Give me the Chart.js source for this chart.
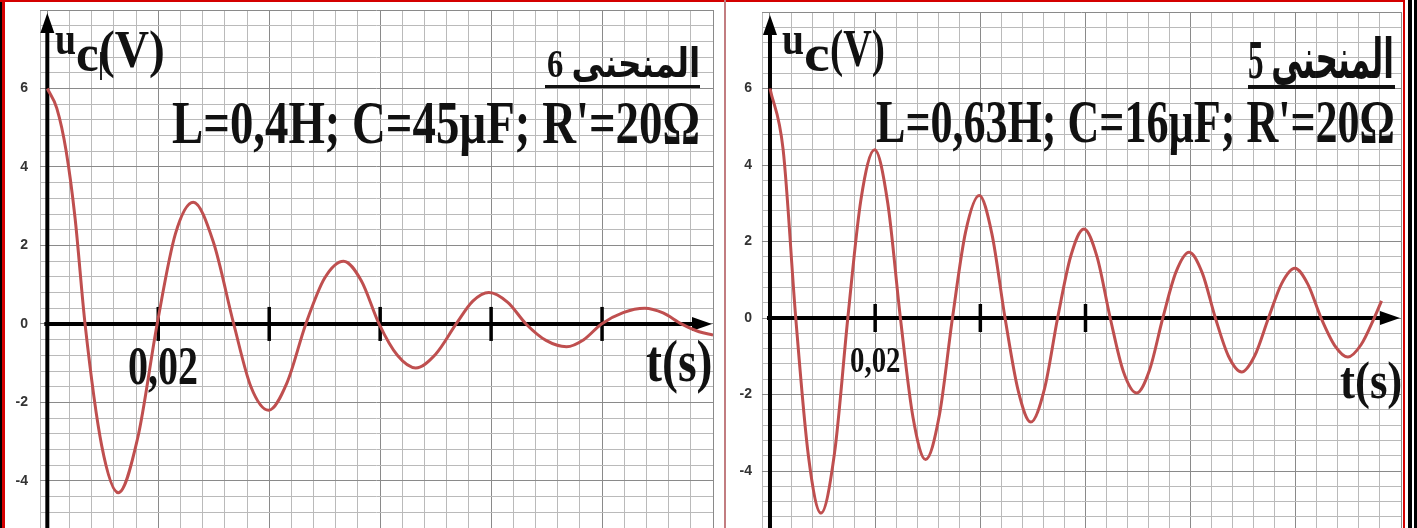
<!DOCTYPE html>
<html>
<head>
<meta charset="utf-8">
<script src="https://cdn.jsdelivr.net/npm/chart.js@4.4.0/dist/chart.umd.min.js"></script>
<style>
body { margin:0; width:1417px; height:528px; overflow:hidden; background:#fff; position:relative; }
.abs { position:absolute; }
.lbl { position:absolute; left:0; top:0; font-family:"Liberation Serif","DejaVu Sans",serif; font-weight:bold; color:#111; line-height:1; white-space:nowrap; transform-origin:0 0; }
</style>
</head>
<body>
<canvas id="chart6" class="abs" width="724" height="528" style="left:0;top:0"></canvas>
<canvas id="chart5" class="abs" width="690" height="528" style="left:727px;top:0"></canvas>

<!-- frame -->
<div class="abs" style="left:0;top:0;width:2px;height:528px;background:#000"></div>
<div class="abs" style="left:2px;top:0;width:3px;height:528px;background:#d40000"></div>
<div class="abs" style="left:0;top:0;width:1405px;height:2px;background:#d40000"></div>
<div class="abs" style="left:1403px;top:0;width:2px;height:528px;background:#d40000"></div>
<div class="abs" style="left:1408px;top:0;width:4px;height:528px;background:#000"></div>
<div class="abs" style="left:1414px;top:0;width:3px;height:528px;background:#000"></div>
<div class="abs" style="left:724px;top:0;width:2px;height:528px;background:#c27d80"></div>

<!-- left panel texts -->
<div class="lbl" data-box="55,21,54,36,1.29">u</div>
<div class="lbl" data-box="76,23,72,40,1.3">c</div>
<div class="abs" style="left:100px;top:52px;width:2px;height:28px;background:#222"></div>
<div class="lbl" data-box="99,66,68,41,1.3">(V)</div>
<div class="lbl" dir="rtl" data-box="547,153,77,31,1.3">المنحنى 6</div>
<div class="abs" style="left:545px;top:85px;width:155px;height:3px;background:#111"></div>
<div class="lbl" data-box="172,528,143,46,1.31">L=0,4H; C=45µF; R'=20Ω</div>
<div class="lbl" data-box="128,70,385,40,1.37">0,02</div>
<div class="lbl" data-box="646,66,382,45,1.3">t(s)</div>

<!-- right panel texts -->
<div class="lbl" data-box="782,22,54,36,1.29">u</div>
<div class="lbl" data-box="804,26,72,40,1.3">c</div>
<div class="lbl" data-box="830,55,67,41,1.3">(V)</div>
<div class="lbl" dir="rtl" data-box="1248,146,78,42,1.33">المنحنى 5</div>
<div class="abs" style="left:1248px;top:85px;width:147px;height:4px;background:#111"></div>
<div class="lbl" data-box="876,519,142,46,1.31">L=0,63H; C=16µF; R'=20Ω</div>
<div class="lbl" data-box="850,51,372,30,1.18">0,02</div>
<div class="lbl" data-box="1340,62,398,42,1.26">t(s)</div>

<script>
// curve 6 : L=0,4H ; C=45µF
var curve6Time = [0, 0.0017, 0.0034, 0.0050, 0.0068, 0.0098, 0.0128, 0.0163, 0.0198,
  0.0231, 0.0263, 0.0299, 0.0336, 0.0367, 0.0399, 0.0432, 0.0466, 0.0500, 0.0534,
  0.0566, 0.0598, 0.0631, 0.0664, 0.0700, 0.0737, 0.0767, 0.0796, 0.0830, 0.0863,
  0.0899, 0.0936, 0.0967, 0.0999, 0.1038, 0.1077, 0.1110, 0.1143, 0.1175, 0.1200];
var curve6Volt = [6.0, 5.5, 4.4, 2.7, 0, -3.1, -4.3, -2.9, 0,
  2.3, 3.1, 2.1, 0, -1.6, -2.2, -1.5, 0, 1.17, 1.6,
  1.1, 0, -0.8, -1.12, -0.77, 0, 0.58, 0.8, 0.55, 0,
  -0.42, -0.58, -0.4, 0, 0.29, 0.4, 0.28, 0, -0.2, -0.28];

// curve 5 : L=0,63H ; C=16µF
var curve5Time = [0, 0.0025, 0.0049, 0.0073, 0.0097, 0.0123, 0.0148, 0.0173, 0.0199,
  0.0224, 0.0248, 0.0272, 0.0296, 0.0322, 0.0347, 0.0372, 0.0398, 0.0422, 0.0447,
  0.0472, 0.0496, 0.0522, 0.0547, 0.0572, 0.0597, 0.0622, 0.0647, 0.0672, 0.0697,
  0.0722, 0.0747, 0.0772, 0.0797, 0.0822, 0.0847, 0.0872, 0.0897, 0.0922, 0.0948,
  0.0973, 0.0998, 0.1023, 0.1048, 0.1074, 0.1099, 0.1124, 0.1149, 0.1163];
var curve5Volt = [6.0, 4.4, 0, -3.6, -5.1, -3.5, 0, 3.1, 4.4,
  3.0, 0, -2.6, -3.7, -2.55, 0, 2.25, 3.2, 2.2, 0,
  -1.9, -2.72, -1.85, 0, 1.62, 2.33, 1.6, 0, -1.4, -1.96,
  -1.35, 0, 1.2, 1.72, 1.18, 0, -1.0, -1.41, -0.98, 0,
  0.9, 1.3, 0.88, 0, -0.72, -1.02, -0.7, 0, 0.45];

var yLabels = [-4, -2, 0, 2, 4, 6];
var ticks6 = [0.02, 0.04, 0.06, 0.08, 0.10];
var ticks5 = [0.02, 0.04, 0.06];

var gridMinor = "#bababa";
var gridMajor = "#8a8a8a";
var curveColor = "#bf4f4f";

var axesArrows = {
  id: "axesArrows",
  beforeDatasetsDraw: function(chart, args, opts) {
    var ctx = chart.ctx, a = chart.chartArea;
    var xs = chart.scales.x, ys = chart.scales.y;
    var x0 = xs.getPixelForValue(0), y0 = ys.getPixelForValue(0);
    var tipY = a.top + opts.tipY, tipX = a.right - 1;
    ctx.save();
    ctx.strokeStyle = "#000";
    ctx.fillStyle = "#000";
    ctx.lineWidth = 4;
    ctx.beginPath(); ctx.moveTo(x0, a.bottom); ctx.lineTo(x0, tipY + 16); ctx.stroke();
    ctx.beginPath(); ctx.moveTo(x0, tipY); ctx.lineTo(x0 - 7, tipY + 20); ctx.lineTo(x0 + 7, tipY + 20); ctx.closePath(); ctx.fill();
    ctx.beginPath(); ctx.moveTo(x0 - 3, y0); ctx.lineTo(tipX - 16, y0); ctx.stroke();
    ctx.beginPath(); ctx.moveTo(tipX, y0); ctx.lineTo(tipX - 20, y0 - 7); ctx.lineTo(tipX - 20, y0 + 7); ctx.closePath(); ctx.fill();
    ctx.lineWidth = 3.5;
    opts.ticks.forEach(function(t) {
      var px = xs.getPixelForValue(t);
      ctx.beginPath(); ctx.moveTo(px, y0 - opts.half); ctx.lineTo(px, y0 + opts.half); ctx.stroke();
    });
    ctx.restore();
  }
};

function makeChart(id, time, volt, o) {
  var pts = time.map(function(t, i) { return {x: t, y: volt[i]}; });
  return new Chart(document.getElementById(id), {
    type: "line",
    data: { datasets: [{
      data: pts,
      borderColor: curveColor,
      borderWidth: 3,
      pointRadius: 0,
      fill: false,
      cubicInterpolationMode: "monotone"
    }]},
    options: {
      responsive: false,
      animation: false,
      layout: { padding: { top: o.top, right: o.right, left: 0, bottom: 0 } },
      plugins: {
        legend: { display: false },
        tooltip: { enabled: false },
        axesArrows: { ticks: o.ticks, half: o.half, tipY: o.tipY }
      },
      scales: {
        x: {
          type: "linear",
          min: o.xMin, max: o.xMax,
          border: { display: false },
          ticks: { display: false, autoSkip: false },
          grid: {
            drawTicks: false,
            color: function(c) {
              var k = Math.round(c.tick.value * 250);
              return (Math.abs(c.tick.value * 250 - k) < 1e-6 && k % 5 === 0) ? gridMajor : gridMinor;
            },
            lineWidth: 1
          },
          afterBuildTicks: function(s) {
            var t = [{value: o.xMin}];
            for (var k = 0; k * 4 / 1000 <= o.xMax + 1e-9; k++) t.push({value: k * 4 / 1000});
            s.ticks = t;
          },
          afterFit: function(s) {
            s.height = 0;
            s.paddingLeft = s.paddingRight = s.paddingTop = s.paddingBottom = 0;
          }
        },
        y: {
          min: o.yMin, max: o.yMax,
          border: { display: false },
          grid: {
            drawTicks: false,
            color: function(c) {
              var v = c.tick.value / 2;
              return Math.abs(v - Math.round(v)) < 1e-6 ? gridMajor : gridMinor;
            },
            lineWidth: 1
          },
          ticks: {
            autoSkip: false,
            padding: o.labelPad,
            color: "#333",
            font: { family: "Liberation Sans", size: 14, weight: "bold" },
            callback: function(v) {
              var r = Math.round(v * 10) / 10;
              return yLabels.indexOf(r) >= 0 ? String(r) : "";
            }
          },
          afterBuildTicks: function(s) {
            var t = [];
            for (var k = Math.ceil(o.yMin / 0.4 - 1e-6); k <= Math.floor(o.yMax / 0.4 + 1e-6); k++) t.push({value: k * 4 / 10});
            s.ticks = t;
          },
          afterFit: function(s) {
            s.width = o.axisW;
            s.paddingLeft = s.paddingRight = s.paddingTop = s.paddingBottom = 0;
          }
        }
      }
    },
    plugins: [axesArrows]
  });
}

makeChart("chart6", curve6Time, curve6Volt, {
  xMin: -0.00132, xMax: 0.12, yMin: -5.2, yMax: 8,
  top: 10, right: 11, axisW: 40, labelPad: 12,
  ticks: ticks6, half: 17, tipY: 3
});
makeChart("chart5", curve5Time, curve5Volt, {
  xMin: -0.00152, xMax: 0.12, yMin: -5.49, yMax: 8,
  top: 12, right: 16, axisW: 35, labelPad: 10,
  ticks: ticks5, half: 14, tipY: 3
});

// fit the annotation texts into their boxes
document.querySelectorAll(".lbl").forEach(function(el) {
  var b = el.dataset.box.split(",").map(Number);
  el.style.fontSize = b[3] + "px";
  var nat = el.offsetWidth;
  el.style.left = b[0] + "px";
  el.style.top = (b[2] - 0.8375 * b[3] * b[4]) + "px";
  el.style.transform = "scale(" + (b[1] / nat) + "," + b[4] + ")";
});
</script>
</body>
</html>
